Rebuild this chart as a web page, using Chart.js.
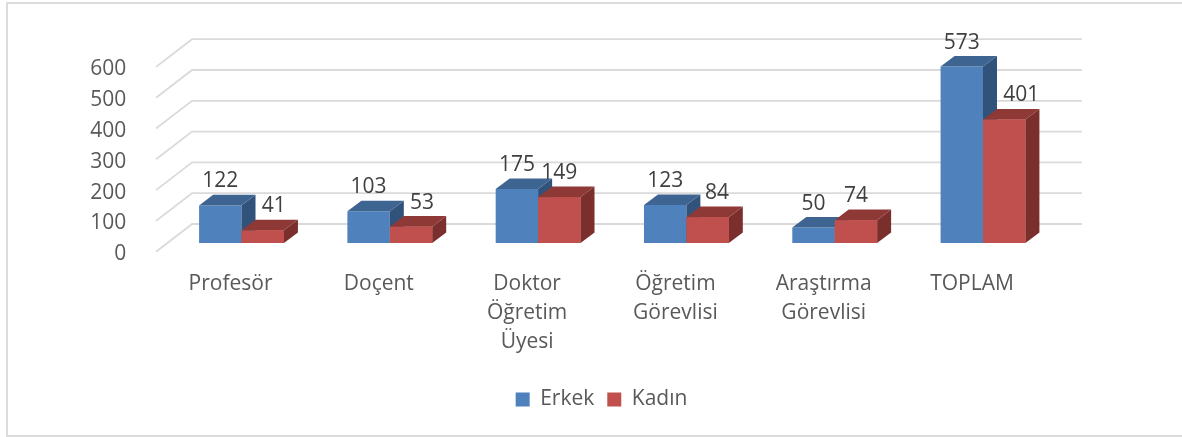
<!DOCTYPE html>
<html><head><meta charset="utf-8">
<style>
html,body{margin:0;padding:0;background:#fff;overflow:hidden;}
#wrap{position:absolute;left:0;top:0;width:1182px;height:437px;}
#frame{position:absolute;left:6px;top:2px;width:1176px;height:435px;border:solid #dcdcdc;border-width:2px 0 2px 2px;box-sizing:border-box;}
canvas{position:absolute;left:0;top:0;}
</style>
<script src="https://cdn.jsdelivr.net/npm/chart.js@4"></script>
</head><body>
<div id="wrap"><div id="frame"></div><canvas id="c" width="1182" height="437"></canvas></div>
<script>
const categories = ['Profesör','Doçent',['Doktor','Öğretim','Üyesi'],['Öğretim','Görevlisi'],['Araştırma','Görevlisi'],'TOPLAM'];
const erkek = [122,103,175,123,50,573];
const kadin = [41,53,149,84,74,401];
const yTicks = [0,100,200,300,400,500,600];
const FONT = '"Open Sans"';
const TEXT = '#595959';
// oblique projection of the 3D box
const BAR_DX = 14, BAR_DY = -10.6, BACK_DX = 24.7, BACK_DY = -19, FRONT_DX = -11.3, FRONT_DY = 8.7;
const faces = [{top:'#3e6591',side:'#31527a'},{top:'#8f3937',side:'#7b2f2d'}];
const kadinLabelShift = [11,11,0,9.5,0,17];

const wall = {
  id:'wall',
  beforeDatasetsDraw(chart){
    const {ctx,chartArea:a,scales:{y}} = chart;
    ctx.save();ctx.strokeStyle='#dadada';ctx.lineWidth=1.8;
    yTicks.forEach(v=>{
      const p=y.getPixelForValue(v);
      ctx.beginPath();
      ctx.moveTo(a.left+FRONT_DX,p+FRONT_DY);
      ctx.lineTo(a.left+BACK_DX,p+BACK_DY);
      ctx.lineTo(a.right+BACK_DX,p+BACK_DY);
      ctx.stroke();
    });
    ctx.restore();
  }
};
const boxes = {
  id:'boxes',
  afterDatasetsDraw(chart){
    const ctx=chart.ctx;
    ctx.save();
    categories.forEach((_,i)=>{
      [0,1].forEach(d=>{
        const el=chart.getDatasetMeta(d).data[i];
        const half=el.width/2, L=el.x-half, R=el.x+half, T=el.y, B=el.base;
        ctx.fillStyle=faces[d].side;
        ctx.beginPath();ctx.moveTo(R,T);ctx.lineTo(R+BAR_DX,T+BAR_DY);ctx.lineTo(R+BAR_DX,B+BAR_DY);ctx.lineTo(R,B);ctx.closePath();ctx.fill();
        ctx.fillStyle=faces[d].top;
        ctx.beginPath();ctx.moveTo(L,T);ctx.lineTo(L+BAR_DX,T+BAR_DY);ctx.lineTo(R+BAR_DX,T+BAR_DY);ctx.lineTo(R,T);ctx.closePath();ctx.fill();
      });
      const el=chart.getDatasetMeta(1).data[i];
      ctx.fillStyle='#c0504d';
      ctx.fillRect(el.x-el.width/2,el.y,el.width,el.base-el.y);
    });
    ctx.fillStyle='#404040';ctx.font='21px '+FONT;ctx.textAlign='center';ctx.textBaseline='middle';
    [0,1].forEach(d=>{
      chart.getDatasetMeta(d).data.forEach((el,i)=>{
        ctx.fillText(String(chart.data.datasets[d].data[i]),el.x+(d?kadinLabelShift[i]:0),el.y-24);
      });
    });
    ctx.restore();
  }
};

new Chart(document.getElementById('c'),{
  type:'bar',
  data:{labels:categories,datasets:[
    {label:'Erkek',data:erkek,backgroundColor:'#4f81bd',borderWidth:0},
    {label:'Kadın',data:kadin,backgroundColor:'#c0504d',borderWidth:0}
  ]},
  plugins:[wall,boxes],
  options:{
    responsive:false,animation:false,
    layout:{padding:{top:58.2,right:0,bottom:17,left:21}},
    datasets:{bar:{categoryPercentage:0.572,barPercentage:1}},
    scales:{
      x:{grid:{display:false},border:{display:false},
        ticks:{font:{family:FONT,size:21,lineHeight:1.4},color:TEXT,labelOffset:-11,maxRotation:0,autoSkip:false,padding:18},
        afterFit(s){s.height=133;}},
      y:{min:0,max:600,grid:{display:false},border:{display:false},
        afterBuildTicks(s){s.ticks=yTicks.map(v=>({value:v}));},
        ticks:{font:{family:FONT,size:21},color:TEXT,labelOffset:11.2,padding:33},
        afterFit(s){s.width=146.35;}},
      spacer:{position:'right',display:true,grid:{display:false},border:{display:false},ticks:{display:false},
        afterFit(s){s.width=124.85;}}
    },
    plugins:{
      tooltip:{enabled:false},
      legend:{position:'bottom',
        labels:{font:{family:FONT,size:21},color:TEXT,boxWidth:14,boxHeight:14,padding:13}}
    }
  }
});
</script></body></html>
